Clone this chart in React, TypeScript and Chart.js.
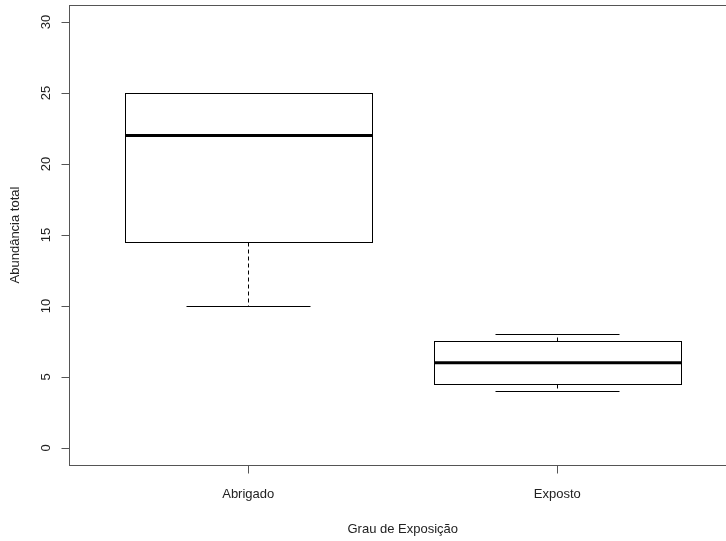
import React, { useEffect, useRef } from "react";
import { Chart, registerables } from "chart.js";

Chart.register(...registerables);

const categories = ["Abrigado", "Exposto"];
const minValues = [10, 4];
const q1Values = [14.5, 4.5];
const medianValues = [22, 6];
const q3Values = [25, 7.5];
const maxValues = [25, 8];
const yTicks = [0, 5, 10, 15, 20, 25, 30];
const xTitle = "Grau de Exposição";
const yTitle = "Abundância total";

const FONT = '13px "Liberation Sans", Arial, sans-serif';

const boxplotPlugin = {
  id: "rBoxplot",
  afterDraw(chart: any) {
    const ctx = chart.ctx as CanvasRenderingContext2D;
    const xs = chart.scales.x;
    const ys = chart.scales.y;
    const px = (v: number) => xs.getPixelForValue(v);
    const py = (v: number) => ys.getPixelForValue(v);
    ctx.save();

    // frame
    const fl = Math.round(px(0.42)) + 0.5;
    const fr = Math.round(px(2.58)) + 0.5;
    const ft = Math.round(py(31.2)) + 0.5;
    const fb = Math.round(py(-1.2)) + 0.5;
    ctx.strokeStyle = "#555";
    ctx.lineWidth = 1;
    ctx.setLineDash([]);
    ctx.strokeRect(fl, ft, fr - fl, fb - ft);

    // y axis ticks + labels
    ctx.fillStyle = "#222";
    ctx.font = FONT;
    yTicks.forEach((t) => {
      const y = Math.round(py(t)) + 0.5;
      ctx.beginPath();
      ctx.moveTo(fl - 8, y);
      ctx.lineTo(fl, y);
      ctx.stroke();
      ctx.save();
      ctx.translate(50, py(t));
      ctx.rotate(-Math.PI / 2);
      ctx.textAlign = "center";
      ctx.textBaseline = "alphabetic";
      ctx.fillText(String(t), 0, 0);
      ctx.restore();
    });

    // x axis ticks + labels
    categories.forEach((c, i) => {
      const x = Math.round(px(i + 1)) + 0.5;
      ctx.beginPath();
      ctx.moveTo(x, fb);
      ctx.lineTo(x, fb + 8);
      ctx.stroke();
      ctx.textAlign = "center";
      ctx.textBaseline = "alphabetic";
      ctx.fillText(c, px(i + 1), 498);
    });

    // titles
    ctx.textAlign = "center";
    ctx.fillText(xTitle, (px(0.42) + px(2.58)) / 2, 533);
    ctx.save();
    ctx.translate(19, (py(31.2) + py(-1.2)) / 2);
    ctx.rotate(-Math.PI / 2);
    ctx.fillText(yTitle, 0, 0);
    ctx.restore();

    // boxes
    ctx.strokeStyle = "#000";
    categories.forEach((_, i) => {
      const c = i + 1;
      const bl = Math.round(px(c - 0.4)) + 0.5;
      const br = Math.round(px(c + 0.4)) + 0.5;
      const wl = Math.round(px(c - 0.2)) + 0.5;
      const wr = Math.round(px(c + 0.2)) + 0.5;
      const xc = Math.round(px(c)) + 0.5;
      const yq1 = Math.round(py(q1Values[i])) + 0.5;
      const yq3 = Math.round(py(q3Values[i])) + 0.5;
      const ymin = Math.round(py(minValues[i])) + 0.5;
      const ymax = Math.round(py(maxValues[i])) + 0.5;
      const ymed = py(medianValues[i]);

      // whiskers (dashed)
      ctx.lineWidth = 1;
      ctx.setLineDash([4, 3]);
      ctx.beginPath();
      ctx.moveTo(xc, yq1);
      ctx.lineTo(xc, ymin);
      ctx.moveTo(xc, yq3);
      ctx.lineTo(xc, ymax);
      ctx.stroke();
      ctx.setLineDash([]);
      // caps
      ctx.beginPath();
      ctx.moveTo(wl, ymin);
      ctx.lineTo(wr, ymin);
      ctx.moveTo(wl, ymax);
      ctx.lineTo(wr, ymax);
      ctx.stroke();
      // box
      ctx.strokeRect(bl, yq3, br - bl, yq1 - yq3);
      // median
      ctx.lineWidth = 3;
      ctx.beginPath();
      ctx.moveTo(bl, ymed);
      ctx.lineTo(br, ymed);
      ctx.stroke();
    });

    ctx.restore();
  },
};

export default function App() {
  const ref = useRef<HTMLCanvasElement | null>(null);
  useEffect(() => {
    document.body.style.margin = "0";
    if (!ref.current) return;
    const chart = new Chart(ref.current, {
      type: "scatter",
      data: {
        datasets: [
          {
            data: medianValues.map((m, i) => ({ x: i + 1, y: m })),
            pointRadius: 0,
            showLine: false,
          },
        ],
      },
      options: {
        animation: false,
        responsive: false,
        events: [],
        layout: { padding: { left: 69, top: 5, right: 0, bottom: 76 } },
        plugins: { legend: { display: false }, tooltip: { enabled: false } },
        scales: {
          x: { type: "linear", display: false, min: 0.42, max: 2.546 },
          y: { type: "linear", display: false, min: -1.2, max: 31.2 },
        },
      },
      plugins: [boxplotPlugin],
    });
    return () => chart.destroy();
  }, []);
  return (
    <div style={{ position: "absolute", left: 0, top: 0, width: 726, height: 541, background: "#fff" }}>
      <canvas ref={ref} width={726} height={541} />
    </div>
  );
}
